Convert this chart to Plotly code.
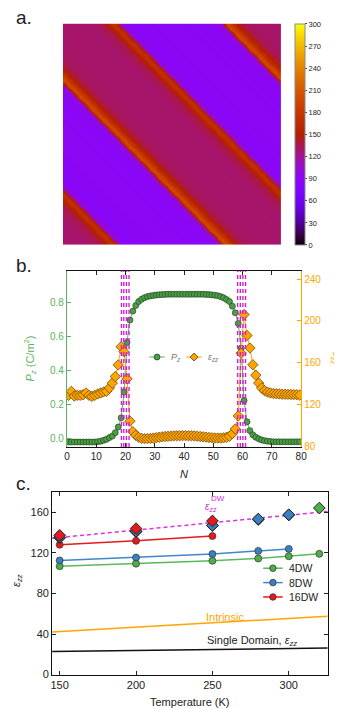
import math
import plotly.graph_objects as go

W, H = 342, 709
FONT = "Liberation Sans"

# ---------------- Panel b data ----------------
N = [i + 0.5 for i in range(80)]
Pz = [-0.022] * 10 + [
    -0.020, -0.017, -0.012, -0.006, 0.004, 0.013, 0.033, 0.066, 0.120, 0.272,
    0.563, 0.695, 0.748, 0.781, 0.804, 0.818, 0.827, 0.833, 0.837, 0.840,
    0.842, 0.844, 0.845, 0.846, 0.847, 0.847, 0.847, 0.847, 0.847, 0.847,
    0.847, 0.847, 0.847, 0.847, 0.847, 0.847, 0.847, 0.846, 0.845, 0.843,
    0.841, 0.838, 0.833, 0.826, 0.816, 0.804, 0.777, 0.738, 0.675, 0.530,
    0.222, 0.097, 0.045, 0.020, 0.006, -0.003, -0.010, -0.014, -0.017, -0.019,
] + [-0.021] * 10
eps_zz = [
    128.7, 132.5, 128.0, 128.7, 128.7, 129.3, 131.0, 128.7, 127.7, 128.7,
    130.0, 131.0, 132.0, 132.5, 135.7, 140.4, 146.7, 157.8, 175.2, 170.5,
    144.5, 104.0, 93.9, 90.4, 88.5, 87.5, 87.3, 87.3, 87.5, 87.8,
    88.2, 88.6, 89.0, 89.3, 89.5, 89.7, 89.9, 90.0, 90.0, 90.1,
    90.1, 90.0, 90.0, 89.8, 89.6, 89.3, 89.0, 88.7, 88.4, 88.1,
    87.9, 87.8, 87.8, 88.0, 88.6, 89.5, 92.0, 96.5, 109.0, 169.0,
    206.0, 186.0, 174.0, 158.0, 148.0, 140.4, 135.7, 133.2, 131.8, 131.0,
    130.5, 130.2, 130.0, 129.8, 129.7, 129.6, 129.5, 129.4, 129.3, 129.0,
]
wall_lines = [18.6, 19.4, 20.3, 21.2, 58.3, 59.2, 60.1, 61.0]

# ---------------- Panel a data (eps_zz map, stripes along diagonal) ----------------
n = len(eps_zz)
z_map = [[eps_zz[(c - r) % n] for c in range(n)] for r in range(n)]
cbar_ticks = [0, 30, 60, 90, 120, 150, 180, 210, 240, 270, 300]

# ---------------- Panel c data ----------------
T4 = [150, 200, 250, 280, 300, 320]
eps4 = [107.0, 109.5, 112.3, 114.6, 116.8, 119.2]
dw4 = [135.0, 141.0, 147.0, 153.0, 157.5, 164.3]
T8 = [150, 200, 250, 280, 300]
eps8 = [112.7, 115.5, 119.0, 122.0, 124.0]
dw8 = [135.6, 141.5, 147.2, 153.5, 157.8]
T16 = [150, 200, 250]
eps16 = [128.1, 132.0, 136.7]
dw16 = [137.4, 144.0, 151.6]
T_line = [145, 325.5]
dw_fit = [134.5, 161.0]
intrinsic = [42.0, 57.6]
single_domain = [22.8, 26.3]


def gp_color(x):
    r = math.sqrt(x)
    g = x ** 3
    b = max(0.0, math.sin(2 * math.pi * x))
    return "rgb(%d,%d,%d)" % (round(255 * r), round(255 * g), round(255 * b))


cscale = [[k / 40, gp_color(k / 40)] for k in range(41)]


def px_x(p):
    return p / W


def px_y(p):
    return 1 - p / H


fig = go.Figure()

# Panel a heatmap
fig.add_trace(go.Heatmap(
    z=z_map, xaxis="x", yaxis="y", colorscale=cscale, zmin=0, zmax=300,
    zsmooth="best",
    colorbar=dict(
        x=px_x(292), xanchor="left", y=px_y(239), yanchor="bottom",
        len=(239 - 15.7) / H, lenmode="fraction", thickness=10, thicknessmode="pixels",
        tickvals=cbar_ticks, ticks="outside", ticklen=2, tickcolor="#444",
        tickfont=dict(family=FONT, size=7.5, color="#222"),
        outlinecolor="#8a8a8a", outlinewidth=1, xpad=0, ypad=0,
    ),
    showlegend=False,
))

# Panel b
C_GREEN = "#5db35d"
C_ORANGE = "#ffa500"
P_MARK = "#4e9e48"
fig.add_trace(go.Scatter(
    x=N, y=Pz, xaxis="x2", yaxis="y2", mode="lines+markers", showlegend=False,
    line=dict(color=C_GREEN, width=1),
    marker=dict(symbol="circle", size=6, color=P_MARK, line=dict(color="#1f4a1f", width=0.7)),
))
fig.add_trace(go.Scatter(
    x=N, y=eps_zz, xaxis="x2", yaxis="y3", mode="lines+markers", showlegend=False,
    line=dict(color=C_ORANGE, width=1),
    marker=dict(symbol="diamond", size=8, color=C_ORANGE, line=dict(color="#5a3a00", width=0.7)),
))
for xv in wall_lines:
    fig.add_shape(type="line", xref="x2", yref="y2 domain", x0=xv, x1=xv, y0=0, y1=1,
                  line=dict(color="#d21fd2", width=1.4, dash="4px,3px"))

# Panel c
series = [
    ("4DW", T4, eps4, dw4, "#4daf4a", "#5cb85c"),
    ("8DW", T8, eps8, dw8, "#3a80c0", "#3f87c8"),
    ("16DW", T16, eps16, dw16, "#e41a1c", "#e41a1c"),
]
fig.add_trace(go.Scatter(x=T_line, y=dw_fit, xaxis="x3", yaxis="y4", mode="lines",
                         line=dict(color="#dd33dd", width=1.5, dash="4px,3px"), showlegend=False))
fig.add_trace(go.Scatter(x=T_line, y=intrinsic, xaxis="x3", yaxis="y4", mode="lines",
                         line=dict(color="#ffa500", width=1.5), showlegend=False))
fig.add_trace(go.Scatter(x=T_line, y=single_domain, xaxis="x3", yaxis="y4", mode="lines",
                         line=dict(color="#111111", width=1.5), showlegend=False))
for name, T, e, dw, col, lcol in series:
    fig.add_trace(go.Scatter(
        x=T, y=e, xaxis="x3", yaxis="y4", mode="lines+markers", name=name, showlegend=False,
        line=dict(color=lcol, width=1.5),
        marker=dict(symbol="circle", size=7, color=col, line=dict(color="#333", width=0.7)),
    ))
for name, T, e, dw, col, lcol in series:
    fig.add_trace(go.Scatter(
        x=T, y=dw, xaxis="x3", yaxis="y4", mode="markers", showlegend=False,
        marker=dict(symbol="diamond", size=9, color=col, line=dict(color="#222", width=1)),
    ))

axis_font = dict(family=FONT, size=10, color="#222")
axis_font_c = dict(family=FONT, size=11, color="#222")

layout = dict(
    width=W, height=H, margin=dict(l=0, r=0, t=0, b=0),
    paper_bgcolor="white", plot_bgcolor="white", showlegend=False,
    font=dict(family=FONT, size=10, color="#222"),
    xaxis=dict(domain=[px_x(53.3), px_x(277.3)], range=[-0.5, n - 0.5], visible=False,
               anchor="y"),
    yaxis=dict(domain=[px_y(239), px_y(15.7)], range=[n - 0.5, -0.5], visible=False,
               anchor="x"),
    xaxis2=dict(domain=[px_x(57.5), px_x(298)], range=[0, 80], anchor="y2",
                tickvals=[0, 10, 20, 30, 40, 50, 60, 70, 80], ticks="inside", ticklen=4,
                tickcolor="#222", showline=True, linecolor="#111", linewidth=1.2, mirror="ticks",
                showgrid=False, zeroline=False, tickfont=axis_font),
    yaxis2=dict(domain=[px_y(442.7), px_y(265)], range=[-0.051, 0.985], anchor="x2",
                tickvals=[0.0, 0.2, 0.4, 0.6, 0.8], ticktext=["0.0", "0.2", "0.4", "0.6", "0.8"],
                ticks="inside", ticklen=4, tickcolor=C_GREEN, showline=True, linecolor=C_GREEN,
                linewidth=1.2, showgrid=False, zeroline=False,
                tickfont=dict(family=FONT, size=10, color=C_GREEN)),
    yaxis3=dict(range=[79.3, 247.9], overlaying="y2", side="right", anchor="x2",
                tickvals=[80, 120, 160, 200, 240], ticks="inside", ticklen=4, tickcolor=C_ORANGE,
                showline=True, linecolor=C_ORANGE, linewidth=1.2, showgrid=False, zeroline=False,
                tickfont=dict(family=FONT, size=10, color=C_ORANGE)),
    xaxis3=dict(domain=[px_x(42.3), px_x(325.3)], range=[145.1, 325.5], anchor="y4",
                tickvals=[150, 200, 250, 300], ticks="inside", ticklen=4, tickcolor="#222",
                showline=True, linecolor="#111", linewidth=1.2, mirror="ticks",
                showgrid=False, zeroline=False, tickfont=axis_font_c),
    yaxis4=dict(domain=[px_y(672.3), px_y(488.3)], range=[0, 180], anchor="x3",
                tickvals=[0, 40, 80, 120, 160], ticks="inside", ticklen=4, tickcolor="#222",
                showline=True, linecolor="#111", linewidth=1.2, mirror="ticks",
                showgrid=False, zeroline=False, tickfont=axis_font_c),
)
fig.update_layout(**layout)

ann = []
shapes = []


def add_text(text, x, y, size=10, color="#222", angle=0, xanchor="center"):
    ann.append(dict(text=text, x=px_x(x), y=px_y(y), xref="paper", yref="paper",
                    showarrow=False, xanchor=xanchor, yanchor="middle", textangle=angle,
                    font=dict(family=FONT, size=size, color=color)))


def legend_entry(x0, x1, y, lcol, lwidth, symbol, fill, edge, r, label, tx, size, tcol):
    shapes.append(dict(type="line", xref="paper", yref="paper",
                       x0=px_x(x0), x1=px_x(x1), y0=px_y(y), y1=px_y(y),
                       line=dict(color=lcol, width=lwidth)))
    cx = (x0 + x1) / 2
    if symbol == "circle":
        shapes.append(dict(type="circle", xref="paper", yref="paper",
                           x0=px_x(cx - r), x1=px_x(cx + r), y0=px_y(y + r), y1=px_y(y - r),
                           fillcolor=fill, line=dict(color=edge, width=0.8)))
    else:
        path = "M %f %f L %f %f L %f %f L %f %f Z" % (
            px_x(cx - r), px_y(y), px_x(cx), px_y(y - r), px_x(cx + r), px_y(y), px_x(cx), px_y(y + r))
        shapes.append(dict(type="path", xref="paper", yref="paper", path=path,
                           fillcolor=fill, line=dict(color=edge, width=0.8)))
    add_text(label, tx, y, size=size, color=tcol, xanchor="left")


# Panel b legend
legend_entry(142, 158, 352, C_GREEN, 1, "circle", P_MARK, "#1f4a1f", 3,
             "<i>P<sub>z</sub></i>", 162, 9, "#777")
legend_entry(180, 196, 352, C_ORANGE, 1, "diamond", C_ORANGE, "#5a3a00", 4,
             "<i>ε<sub>zz</sub></i>", 200, 9, "#777")

# Panel c legend
for (name, T, e, dw, col, lcol), yy in zip(series, [565, 579.5, 594]):
    legend_entry(259, 279, yy, lcol, 1.5, "circle", col, "#333", 3.3, name, 283, 10.5, "#222")

add_text("a.", 3, 10, size=19, xanchor="left")
add_text("b.", 3, 260, size=19, xanchor="left")
add_text("c.", 3, 480, size=19, xanchor="left")
add_text("<i>P<sub>z</sub></i> (C/m<sup>2</sup>)", 20, 353, size=11, color=C_GREEN, angle=-90)
add_text("<i>ε<sub>zz</sub></i>", 334, 353, size=11, color=C_ORANGE, angle=90)
add_text("<i>N</i>", 178, 470, size=11)
add_text("<i>ε<sub>zz</sub></i>", 6, 577, size=11, angle=-90)
add_text("Temperature (K)", 183, 700, size=11)
add_text("<i>ε<sub>zz</sub></i>", 205, 503, size=10, color="#d22ad2")
add_text("DW", 213, 495, size=8, color="#d22ad2")
add_text("Intrinsic", 198, 614, size=11, color=C_ORANGE, xanchor="left")
add_text("Single Domain, <i>ε<sub>zz</sub></i>", 199, 638, size=11, xanchor="left")
fig.update_layout(annotations=ann, shapes=list(fig.layout.shapes) + shapes)

fig.write_html("out.html")
